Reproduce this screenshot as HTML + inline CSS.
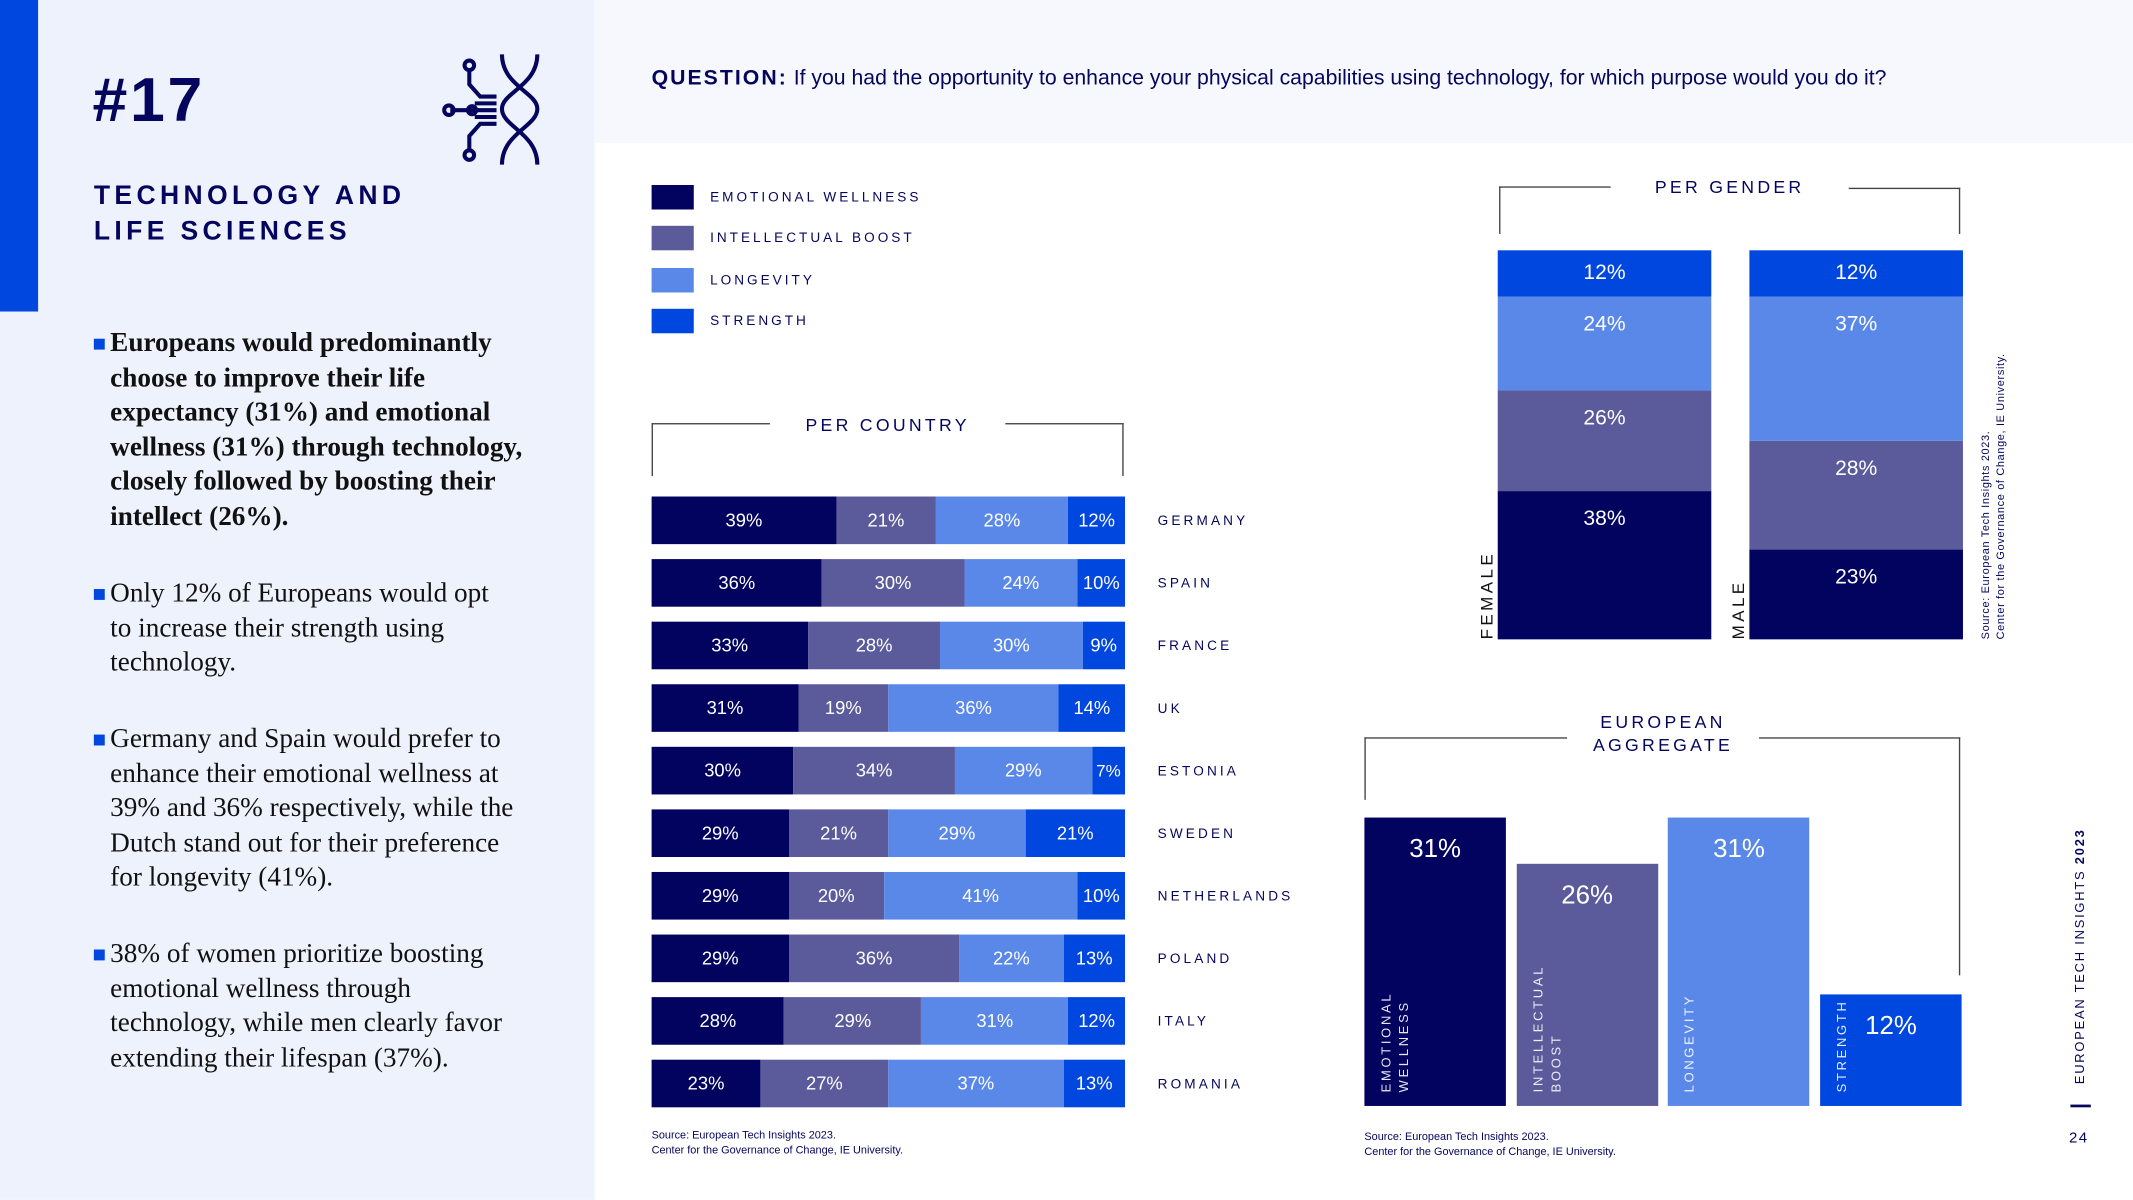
<!DOCTYPE html>
<html><head><meta charset="utf-8">
<style>
html,body{margin:0;padding:0;width:2133px;height:1200px;overflow:hidden;background:#fff;}
#wrap{position:absolute;left:0;top:0;width:1568px;height:882px;transform:scale(1.36033);transform-origin:0 0;font-family:"Liberation Sans",sans-serif;color:#05055e;}
.abs{position:absolute;}
.lp{left:0;top:0;width:437px;height:882px;background:#eef2fc;}
.qb{left:437px;top:0;width:1131px;height:105px;background:#f6f8fd;}
.sp{letter-spacing:2.4px;font-size:10.5px;}
.bul{position:absolute;left:69px;font-family:"Liberation Serif",serif;font-size:20px;line-height:25.6px;color:#111;width:360px;padding-left:12px;white-space:nowrap;}
.bul:before{content:"";position:absolute;left:0;top:9px;width:8px;height:8px;background:#0047e0;}
.seg{position:absolute;color:#fff;font-size:13.5px;display:flex;align-items:center;justify-content:center;text-align:center;overflow:hidden;line-height:14px;}
.ln{position:absolute;background:#444;}
.src{font-size:8px;line-height:10.5px;color:#05055e;}
</style></head><body>
<div id="wrap">
<div class="abs lp"></div>
<div class="abs" style="left:0;top:0;width:28px;height:229px;background:#0047e0"></div>
<div class="abs qb"></div>
<div class="abs" style="left:68px;top:46px;font-size:46px;font-weight:900;letter-spacing:2px;color:#05055e">#17</div>
<svg class="abs" style="left:325px;top:38px" width="75" height="85" viewBox="0 0 75 85" fill="none" stroke="#05055e" stroke-width="3">
<path d="M44 2 C44 25 70 30 70 42 C70 55 44 60 44 83"/><path d="M70 2 C70 25 44 30 44 42 C44 55 70 60 70 83"/>
<path d="M20 13 V24 L28 33 H40 M20 43 H40 M6 43 H20 M20 73 V62 L28 53 H40 M24 38 H40 M24 48 H40"/>
<circle cx="20" cy="10" r="3.5"/><circle cx="5" cy="43" r="3.5"/><circle cx="20" cy="76" r="3.5"/><circle cx="22" cy="43" r="3"/>
</svg>
<div class="abs" style="left:69px;top:131px;font-size:19.5px;font-weight:bold;letter-spacing:3.2px;line-height:26px;color:#05055e">TECHNOLOGY AND<br>LIFE SCIENCES</div>
<div class="bul" style="top:240px;font-weight:bold">Europeans would predominantly<br>choose to improve their life<br>expectancy (31%) and emotional<br>wellness (31%) through technology,<br>closely followed by boosting their<br>intellect (26%).</div>
<div class="bul" style="top:424px">Only 12% of Europeans would opt<br>to increase their strength using<br>technology.</div>
<div class="bul" style="top:531px">Germany and Spain would prefer to<br>enhance their emotional wellness at<br>39% and 36% respectively, while the<br>Dutch stand out for their preference<br>for longevity (41%).</div>
<div class="bul" style="top:689px">38% of women prioritize boosting<br>emotional wellness through<br>technology, while men clearly favor<br>extending their lifespan (37%).</div>

<div class="abs" style="left:479px;top:49px;font-size:15.6px;color:#05055e;white-space:nowrap"><b style="letter-spacing:1.5px">QUESTION:</b> If you had the opportunity to enhance your physical capabilities using technology, for which purpose would you do it?</div>

<div id="legend"></div>

<div class="ln" style="left:479px;top:311px;width:87px;height:1px"></div>
<div class="ln" style="left:479px;top:311px;width:1px;height:39px"></div>
<div class="ln" style="left:739px;top:311px;width:87px;height:1px"></div>
<div class="ln" style="left:825px;top:311px;width:1px;height:39px"></div>
<div class="abs sp" style="left:566px;width:173px;top:305px;text-align:center;font-size:13px">PER COUNTRY</div>
<div id="country"></div>
<div class="abs src" style="left:479px;top:830px">Source: European Tech Insights 2023.<br>Center for the Governance of Change, IE University.</div>

<div class="ln" style="left:1102px;top:137px;width:82px;height:1px"></div>
<div class="ln" style="left:1102px;top:137px;width:1px;height:35px"></div>
<div class="ln" style="left:1359px;top:138px;width:82px;height:1px"></div>
<div class="ln" style="left:1440px;top:138px;width:1px;height:34px"></div>
<div class="abs sp" style="left:1184px;width:175px;top:130px;text-align:center;font-size:13px">PER GENDER</div>
<div id="gender"></div>
<div class="abs src" style="left:1455px;top:470px;transform:rotate(-90deg);transform-origin:0 0;white-space:nowrap;letter-spacing:0.5px">Source: European Tech Insights 2023.<br>Center for the Governance of Change, IE University.</div>

<div class="ln" style="left:1003px;top:542px;width:149px;height:1px"></div>
<div class="ln" style="left:1003px;top:542px;width:1px;height:46px"></div>
<div class="ln" style="left:1293px;top:542px;width:148px;height:1px"></div>
<div class="ln" style="left:1440px;top:542px;width:1px;height:175px"></div>
<div class="abs sp" style="left:1152px;width:141px;top:522px;text-align:center;font-size:13px;line-height:17px">EUROPEAN<br>AGGREGATE</div>
<div id="agg"></div>
<div class="abs src" style="left:1003px;top:831px">Source: European Tech Insights 2023.<br>Center for the Governance of Change, IE University.</div>

<div class="abs" style="left:1524px;top:797px;transform:rotate(-90deg);transform-origin:0 0;white-space:nowrap;font-size:9.5px;letter-spacing:1.3px">EUROPEAN TECH INSIGHTS <b>2023</b></div>
<div class="abs" style="left:1522px;top:812px;width:15px;height:2px;background:#05055e"></div>
<div class="abs" style="left:1521px;top:831px;font-size:11px;letter-spacing:1px">24</div>
</div>
<script>
const colors=["#02025f","#5b5b9c","#5a88e8","#0047e0"];
const seriesNames=["EMOTIONAL WELLNESS","INTELLECTUAL BOOST","LONGEVITY","STRENGTH"];
const countries=["GERMANY","SPAIN","FRANCE","UK","ESTONIA","SWEDEN","NETHERLANDS","POLAND","ITALY","ROMANIA"];
const emotional=[39,36,33,31,30,29,29,29,28,23];
const intellectual=[21,30,28,19,34,21,20,36,29,27];
const longevity=[28,24,30,36,29,29,41,22,31,37];
const strength=[12,10,9,14,7,21,10,13,12,13];
const genders=["FEMALE","MALE"];
const genderEmotional=[38,23];
const genderIntellectual=[26,28];
const genderLongevity=[24,37];
const genderStrength=[12,12];
const aggCategories=["EMOTIONAL WELLNESS","INTELLECTUAL BOOST","LONGEVITY","STRENGTH"];
const aggValues=[31,26,31,12];

function mk(parent,css,txt){const d=document.createElement('div');d.style.cssText=css;if(txt!==undefined)d.innerHTML=txt;parent.appendChild(d);return d;}
const lg=document.getElementById('legend');
seriesNames.forEach((n,i)=>{
  const y=136+i*30.3;
  const s=mk(lg,`position:absolute;left:479px;top:${y}px;width:31px;height:18px;background:${colors[i]}`);
  
  
  const t=mk(lg,`position:absolute;left:522px;top:${y+4}px;font-size:10px;letter-spacing:2.2px`,n);
  
  
});
const cx0=479,cW=348,rowY0=365,rowH=35,rowStep=46;
function xs(v){return v/100*cW;}
const cc=document.getElementById('country');
const series=[emotional,intellectual,longevity,strength];
countries.forEach((c,r)=>{
  const total=series.reduce((a,s)=>a+s[r],0);
  let acc=0;const y=rowY0+r*rowStep;
  series.forEach((s,k)=>{
    const x=cx0+xs(acc/total*100),w=xs(s[r]/total*100);acc+=s[r];
    const b=mk(cc,`left:${x}px;top:${y}px;width:${w}px;height:${rowH}px;background:${colors[k]};${w<25?'font-size:12.5px;':''}`,s[r]+'%');
    b.className='seg';
    
    
  });
  const l=mk(cc,`position:absolute;left:851px;top:${y+13}px;font-size:10px;letter-spacing:2.3px`,c);
  
  
});
const gc=document.getElementById('gender');
const gBottom=470,gH=286,gX=[1101,1286],gW=157;
const gSeries=[genderEmotional,genderIntellectual,genderLongevity,genderStrength];
genders.forEach((g,i)=>{
  const total=gSeries.reduce((a,s)=>a+s[i],0);
  let acc=0;
  gSeries.forEach((s,k)=>{
    const h=s[i]/total*gH;const top=gBottom-acc-h;acc+=h;
    const b=mk(gc,`left:${gX[i]}px;top:${top}px;width:${gW}px;height:${h}px;background:${colors[k]};align-items:flex-start;padding-top:${k==3?10:14}px;box-sizing:border-box;font-size:15.5px;`,s[i]+'%');
    b.className='seg';
    
    
  });
  const l=mk(gc,`position:absolute;left:${gX[i]-15}px;top:${gBottom}px;transform:rotate(-90deg);transform-origin:0 0;font-size:12.5px;letter-spacing:2.5px;white-space:nowrap;color:#111`,g);
  
  
});
const ac=document.getElementById('agg');
const aBottom=813,aPx=6.85,aX0=1003,aW=104,aStep=111.7;
aggValues.forEach((v,i)=>{
  const h=v*aPx,x=aX0+i*aStep;
  const b=mk(ac,`position:absolute;left:${x}px;top:${aBottom-h}px;width:${aW}px;height:${h}px;background:${colors[i]}`);
  
  
  const t=mk(ac,`position:absolute;left:${x+33}px;top:${aBottom-h+13}px;color:#fff;font-size:19px`,v+'%');
  
  
  const parts=aggCategories[i].split(' ');
  const l=mk(ac,`position:absolute;left:${x+10}px;top:${aBottom-10}px;transform:rotate(-90deg);transform-origin:0 0;color:#fff;font-size:9.5px;letter-spacing:2px;line-height:13px;white-space:nowrap;opacity:0.9`,parts.join('<br>'));
  
  
});
</script>
</body></html>
